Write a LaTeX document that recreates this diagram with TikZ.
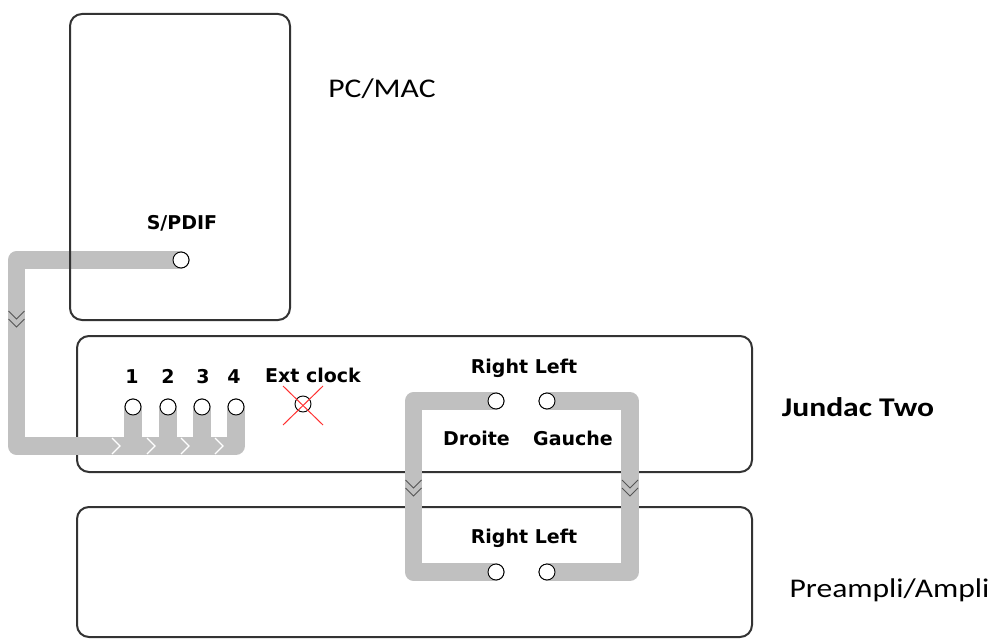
\documentclass[tikz,border=0pt]{standalone}
\usepackage{fontspec}
\newfontfamily\pixfont{DejaVu Sans}
\newfontfamily\calfont{Carlito}
\definecolor{cablegray}{HTML}{C0C0C0}
\definecolor{boxline}{HTML}{333333}
\definecolor{chevgray}{HTML}{555555}
\definecolor{xred}{HTML}{FF3030}
\begin{document}
\begin{tikzpicture}[x=1pt,y=-1pt,
  box/.style={draw=boxline,line width=2pt,rounded corners=12pt,inner sep=0pt},
  cable/.style={draw=cablegray,line width=17.5pt,line join=round},
  stub/.style={draw=cablegray,line width=17.5pt},
  jack/.style={circle,draw=black,fill=white,line width=0.9pt,minimum size=16pt,inner sep=0pt},
  pix/.style={font=\pixfont\bfseries\fontsize{19}{22}\selectfont,anchor=base,inner sep=0pt},
  cal/.style={font=\calfont\fontsize{27}{32}\selectfont,anchor=base,inner sep=0pt},
  chevd/.style={draw=chevgray,line width=1pt},
  chevw/.style={draw=white,line width=1.2pt},
  xline/.style={draw=xred,line width=1pt}]
\useasboundingbox (0,0) rectangle (995,639);
% boxes under the cables
\node[box,minimum width=675pt,minimum height=136pt] (jundac) at (414.5,404) {};
\node[box,minimum width=675pt,minimum height=130pt] (preampli) at (414.5,572) {};
% left cable and its jacks
\node[jack] (spdif) at (181,260) {};
\node[jack] (in1) at (133,407) {};
\node[jack] (in2) at (168,407) {};
\node[jack] (in3) at (202,407) {};
\node[jack] (in4) at (236,407) {};
\coordinate (lbend) at (16.5,446);
\draw[cable] (spdif.center) -| (lbend) -| (in4.center);
\coordinate (bot1) at (133,454.5);
\coordinate (bot2) at (168,454.5);
\coordinate (bot3) at (202,454.5);
\draw[stub] (in1.center) -- (bot1);
\draw[stub] (in2.center) -- (bot2);
\draw[stub] (in3.center) -- (bot3);
\draw[chevd] (8.5,311) -- (16.5,319) -- (24.5,311);
\draw[chevd] (8.5,319) -- (16.5,327) -- (24.5,319);
\foreach \t in {120,155,189,223}{
  \draw[chevw] (\t-8,438) -- (\t,446) -- (\t-8,454);
}
% PC box drawn over the cable
\node[box,minimum width=220pt,minimum height=306pt] (pc) at (180,167) {};
% right cables
\node[jack] (rtop) at (496,401) {};
\node[jack] (ltop) at (547,401) {};
\node[jack] (rbot) at (496,572) {};
\node[jack] (lbot) at (547,572) {};
\draw[cable] (rtop.center) -| (413.5,486) |- (rbot.center);
\draw[cable] (ltop.center) -| (630,486) |- (lbot.center);
\foreach \cx in {413.5,630}{
  \draw[chevd] (\cx-8,480) -- (\cx,488) -- (\cx+8,480);
  \draw[chevd] (\cx-8,488) -- (\cx,496) -- (\cx+8,488);
}
% jacks on top of the cables
\foreach \n in {spdif,in1,in2,in3,in4,rtop,ltop,rbot,lbot}{
  \draw[black,fill=white,line width=0.9pt] (\n.center) circle (8pt);
}
% ext clock (unused)
\node[jack] (ext) at (303,404) {};
\draw[xline] (283,386) -- (323,425);
\draw[xline] (323,386) -- (283,425);
% labels
\node[pix] (tspdif) at (182,229) {S/PDIF};
\node[pix] (t1) at (132,383) {1};
\node[pix] (t2) at (168,383) {2};
\node[pix] (t3) at (203,383) {3};
\node[pix] (t4) at (234,383) {4};
\node[pix] (text) at (313,382) {Ext clock};
\node[pix] (trl1) at (524,373) {Right Left};
\node[pix] (tdroite) at (476.5,445) {Droite};
\node[pix] (tgauche) at (573,445) {Gauche};
\node[pix] (trl2) at (524,543) {Right Left};
\node[cal] (tpc) at (382,98) {\scalebox{1.17}[1]{PC/MAC}};
\node[cal,font=\calfont\bfseries\fontsize{27}{32}\selectfont] (tjun) at (858,416) {\scalebox{1.17}[1]{Jundac Two}};
\node[cal] (tpre) at (889.5,597) {\scalebox{1.17}[1]{Preampli/Ampli}};
\end{tikzpicture}
\end{document}
